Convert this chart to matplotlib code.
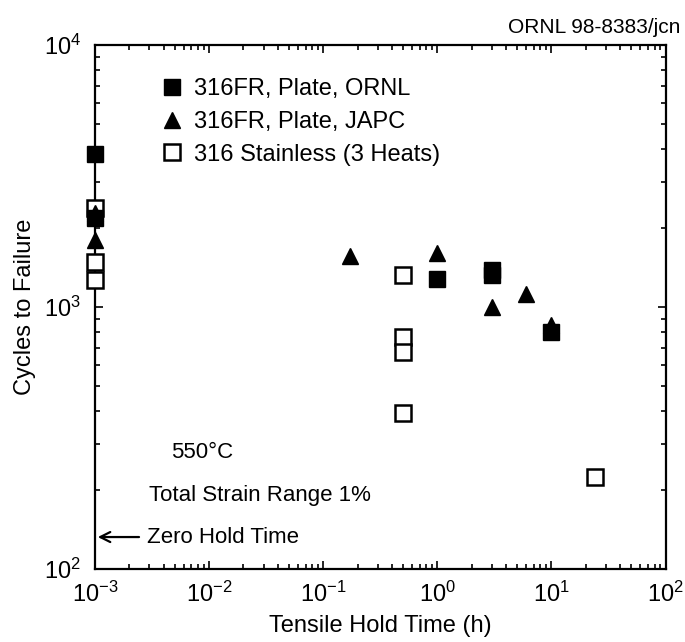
import matplotlib
matplotlib.use('Agg')
import matplotlib.pyplot as plt

plt.rcParams['font.family'] = ['Liberation Sans', 'DejaVu Sans']
plt.rcParams['mathtext.fontset'] = 'custom'
plt.rcParams['mathtext.rm'] = 'Liberation Sans'
plt.rcParams['mathtext.it'] = 'Liberation Sans:italic'
plt.rcParams['mathtext.bf'] = 'Liberation Sans:bold'

# hold time (h) and cycles to failure; zero hold plotted at 1e-3
ornl_t = [1e-3, 1e-3, 1.0, 3.0, 3.0, 10.0]
ornl_n = [3850, 2180, 1280, 1380, 1320, 800]

japc_t = [1e-3, 1e-3, 0.17, 1.0, 3.0, 6.0, 10.0]
japc_n = [2280, 1800, 1570, 1610, 1000, 1120, 855]

ss_t = [1e-3, 1e-3, 1e-3, 0.5, 0.5, 0.5, 0.5, 24.0]
ss_n = [2380, 1480, 1270, 1320, 770, 675, 395, 224]

labels = ['316FR, Plate, ORNL', '316FR, Plate, JAPC', '316 Stainless (3 Heats)']

fig = plt.figure(figsize=(6.85, 6.42), dpi=100)
ax = fig.add_axes([0.1387, 0.1137, 0.833, 0.8162])

ms = 11.5
h3, = ax.plot(ss_t, ss_n, ls='none', marker='s', ms=ms, mfc='white', mec='black',
              mew=1.8, label=labels[2], clip_on=False, zorder=3)
h2, = ax.plot(japc_t, japc_n, ls='none', marker='^', ms=ms, color='black',
              label=labels[1], clip_on=False, zorder=4)
h1, = ax.plot(ornl_t, ornl_n, ls='none', marker='s', ms=ms, color='black',
              label=labels[0], clip_on=False, zorder=5)

ax.set_xscale('log')
ax.set_yscale('log')
ax.set_xlim(1e-3, 1e2)
ax.set_ylim(1e2, 1e4)

ax.set_xlabel('Tensile Hold Time (h)', fontsize=17, labelpad=6)
ax.set_ylabel('Cycles to Failure', fontsize=17, labelpad=6)

for s in ax.spines.values():
    s.set_linewidth(1.6)
ax.tick_params(which='both', direction='in', top=True, right=True, width=1.2)
ax.tick_params(which='major', length=6, labelsize=17)
ax.tick_params(which='minor', length=3.5)
ax.tick_params(axis='x', which='major', pad=9)
ax.tick_params(axis='y', which='major', pad=10)

leg = ax.legend(handles=[h1, h2, h3], loc='upper left', bbox_to_anchor=(0.09, 0.968),
                frameon=False, fontsize=17, handlelength=0.8, handletextpad=0.5,
                labelspacing=0.45, borderaxespad=0.3)

ax.text(0.133, 0.223, '550\u00b0C', transform=ax.transAxes, fontsize=16, va='center')
ax.text(0.095, 0.141, 'Total Strain Range 1%', transform=ax.transAxes, fontsize=16,
        va='center')
ax.text(0.0915, 0.061, 'Zero Hold Time', transform=ax.transAxes, fontsize=16,
        va='center')
ax.annotate('', xy=(0.0, 0.061), xytext=(0.082, 0.061), xycoords='axes fraction',
            arrowprops=dict(arrowstyle='->', lw=1.6, color='black',
                            mutation_scale=18))

fig.text(0.993, 0.957, 'ORNL 98-8383/jcn', ha='right', va='center', fontsize=15)

fig.savefig('out.png', dpi=100)
